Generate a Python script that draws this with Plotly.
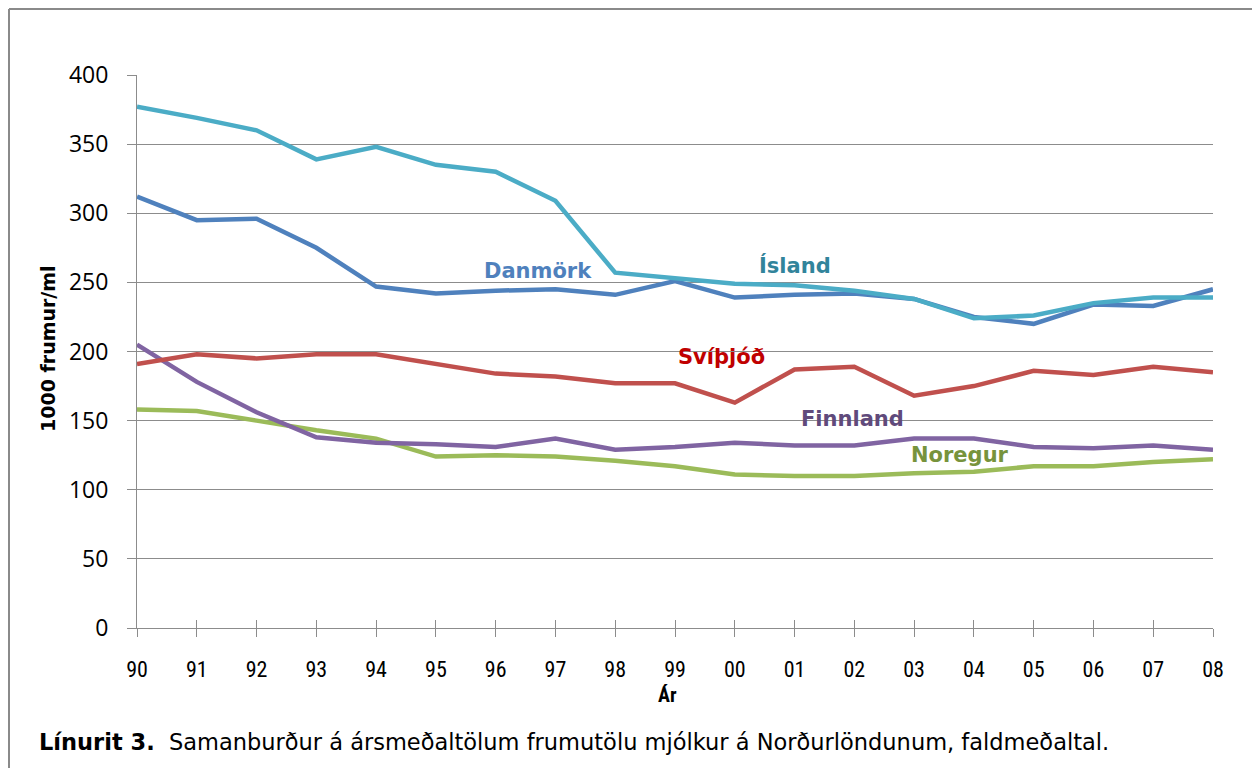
import plotly.graph_objects as go

years = ["90", "91", "92", "93", "94", "95", "96", "97", "98", "99",
         "00", "01", "02", "03", "04", "05", "06", "07", "08"]
island = [377, 369, 360, 339, 348, 335, 330, 309, 257, 253, 249, 248, 244, 238, 224, 226, 235, 239, 239]
danmork = [312, 295, 296, 275, 247, 242, 244, 245, 241, 251, 239, 241, 242, 238, 225, 220, 234, 233, 245]
svithjod = [191, 198, 195, 198, 198, 191, 184, 182, 177, 177, 163, 187, 189, 168, 175, 186, 183, 189, 185]
finnland = [205, 178, 156, 138, 134, 133, 131, 137, 129, 131, 134, 132, 132, 137, 137, 131, 130, 132, 129]
noregur = [158, 157, 150, 143, 137, 124, 125, 124, 121, 117, 111, 110, 110, 112, 113, 117, 117, 120, 122]

xi = list(range(len(years)))

series = [
    ("Ísland", island, "#4BACC6"),
    ("Danmörk", danmork, "#4F81BD"),
    ("Svíþjóð", svithjod, "#C0504D"),
    ("Finnland", finnland, "#8064A2"),
    ("Noregur", noregur, "#9BBB59"),
]

fig = go.Figure()
for name, vals, col in [series[4], series[3], series[2], series[1], series[0]]:
    fig.add_trace(go.Scatter(x=xi, y=vals, mode="lines", name=name,
                             line=dict(color=col, width=4.5), showlegend=False))
# helper trace for the inner half of crossing x ticks
fig.add_trace(go.Scatter(x=xi, y=noregur, xaxis="x2", mode="lines",
                         line=dict(width=0, color="rgba(0,0,0,0)"),
                         hoverinfo="skip", showlegend=False))

grid = "#8C8C8C"
narrow = "Liberation Sans Narrow, Roboto Condensed, Arial Narrow, sans-serif"
tickfont = dict(family=narrow, size=22, color="#000")

# page coords -> plot fractions (plot area spans x 137..1213, y 75..628 on the page)
def px(x):
    return (x - 137) / (1213 - 137)

def py(y):
    return (628 - y) / (628 - 75)

fig.update_layout(
    width=1252, height=760,
    margin=dict(l=129, r=47, t=67, b=140),
    paper_bgcolor="white", plot_bgcolor="white",
    xaxis=dict(range=[0, 18], tickmode="array", tickvals=xi, ticktext=years,
               ticks="outside", ticklen=8, tickcolor=grid, showgrid=False,
               showline=True, linecolor=grid, linewidth=1, zeroline=False,
               tickfont=tickfont, ticklabelstandoff=14),
    xaxis2=dict(range=[0, 18], overlaying="x", tickmode="array", tickvals=xi,
                ticks="inside", ticklen=8, tickcolor=grid, showgrid=False,
                showticklabels=False, showline=False, zeroline=False, side="bottom"),
    yaxis=dict(range=[0, 400], dtick=50, ticks="outside", ticklen=9, tickcolor=grid,
               showgrid=True, gridcolor=grid, gridwidth=1, showline=True,
               linecolor=grid, linewidth=1, zeroline=False,
               tickfont=dict(family="Open Sans, sans-serif", size=23, color="#000"),
               ticklabelstandoff=14),
)

bold = "DejaVu Sans, Verdana, sans-serif"
labels = [
    ("Danmörk", 6.7, 258, "#4F81BD"),
    ("Ísland", 11.0, 262, "#31849B"),
    ("Svíþjóð", 9.78, 196, "#C00000"),
    ("Finnland", 11.97, 151, "#604A7B"),
    ("Noregur", 13.76, 125, "#77933C"),
]
for txt, x, y, col in labels:
    fig.add_annotation(x=x, y=y, xref="x", yref="y", text="<b>%s</b>" % txt,
                       showarrow=False, font=dict(family=bold, size=21, color=col))

fig.add_annotation(x=px(667), y=py(695), xref="paper", yref="paper",
                   text="<b>Ár</b>", showarrow=False, xanchor="center", yanchor="middle",
                   font=dict(family=narrow, size=20, color="#000"))
fig.add_annotation(x=px(48), y=py(349), xref="paper", yref="paper",
                   text="<b>1000 frumur/ml</b>", textangle=-90, showarrow=False,
                   xanchor="center", yanchor="middle",
                   font=dict(family="DejaVu Sans, sans-serif", size=19, color="#000"))
fig.add_annotation(x=px(37), y=py(742), xref="paper", yref="paper",
                   xanchor="left", yanchor="middle", showarrow=False,
                   text="<b>Línurit 3.</b>  Samanburður á ársmeðaltölum frumutölu mjólkur á Norðurlöndunum, faldmeðaltal.",
                   font=dict(family="DejaVu Sans, sans-serif", size=22.5, color="#000"))

# frame (top and left edges)
fig.add_shape(type="line", xref="paper", yref="paper",
              x0=px(9), x1=px(1262), y0=py(9), y1=py(9),
              line=dict(color="#8A8A8A", width=2))
fig.add_shape(type="line", xref="paper", yref="paper",
              x0=px(9), x1=px(9), y0=py(9), y1=py(780),
              line=dict(color="#8A8A8A", width=2))

fig.write_html("out.html")
